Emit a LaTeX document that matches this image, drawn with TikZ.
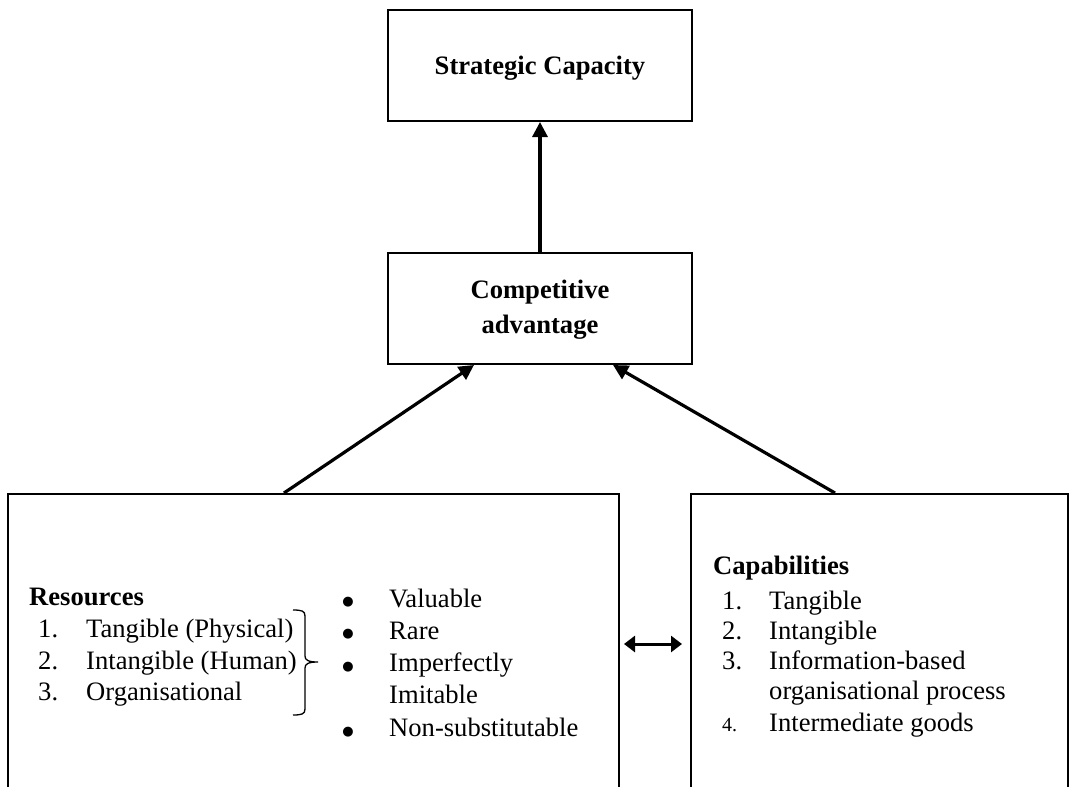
\documentclass[tikz,border=0pt]{standalone}
\usepackage{fontspec}
\setmainfont{Liberation Serif}
\newfontfamily\bulfont{DejaVu Sans}
\usetikzlibrary{arrows.meta,calc}
\begin{document}
\begin{tikzpicture}[x=1pt,y=-1pt,
  box/.style={draw,line width=2pt,inner sep=0pt},
  conn/.style={line width=3.2pt,-{Triangle[length=15pt,width=15pt]}},
  dbl/.style={line width=3pt,{Triangle[length=11pt,width=16pt]}-{Triangle[length=11pt,width=16pt]}},
  txt/.style={anchor=base west,inner sep=0pt,font=\fontsize{26.6}{31.5}\selectfont},
  btxt/.style={inner sep=0pt,font=\bfseries\fontsize{26.6}{31.5}\selectfont},
  smalltxt/.style={anchor=base west,inner sep=0pt,font=\fontsize{20}{24}\selectfont},
  bul/.style={anchor=base,inner sep=0pt,font=\bulfont\fontsize{13}{13}\selectfont}]
\useasboundingbox (0,0) rectangle (1072,787);
\clip (0,0) rectangle (1072,787);
\fill[white] (0,0) rectangle (1072,787);
% boxes
\node[box,minimum width=304pt,minimum height=111pt] (top) at (540,65.5) {};
\node[box,minimum width=304pt,minimum height=111pt] (comp) at (540,308.5) {};
\node[box,minimum width=611pt,minimum height=320pt] (res) at (313.5,654) {};
\node[box,minimum width=377pt,minimum height=320pt] (cap) at (879.5,654) {};
% titles
\node[btxt,anchor=base] (toptxt) at (540,74) {Strategic Capacity};
\node[btxt,anchor=base] (comptxta) at (540,298) {Competitive};
\node[btxt,anchor=base] (comptxtb) at (540,333) {advantage};
% connectors
\draw[conn] (comp.north) -- (top.south);
\draw[conn] ($(res.north west)+(277,0)$) -- ($(comp.south west)+(87,0)$);
\draw[conn] ($(cap.north west)+(145,0)$) -- ($(comp.south east)+(-80,0)$);
\draw[dbl] ($(res.east)+(4,-10)$) -- ($(cap.west)+(-8,-10)$);
% resources
\node[btxt,anchor=base west] (restitle) at (29,605) {Resources};
\node[txt] (r1n) at (38,637) {1.};
\node[txt] (r1) at (86,637) {Tangible (Physical)};
\node[txt] (r2n) at (38,669) {2.};
\node[txt] (r2) at (86,669) {Intangible (Human)};
\node[txt] (r3n) at (38,700) {3.};
\node[txt] (r3) at (86,700) {Organisational};
% brace
\draw[line width=1.3pt] (293,610) .. controls (302,610) and (305,611) .. (305,616) -- (305,656)
  .. controls (305,660) and (308,662) .. (318,662)
  .. controls (308,662) and (305,664) .. (305,668) -- (305,709)
  .. controls (305,714) and (302,715) .. (293,715);
% bullets
\node[bul] (b1) at (348,605) {●};
\node[bul] (b2) at (348,637) {●};
\node[bul] (b3) at (348,670) {●};
\node[bul] (b4) at (348,735) {●};
\node[txt] (v1) at (389,607) {Valuable};
\node[txt] (v2) at (389,639) {Rare};
\node[txt] (v3) at (389,671) {Imperfectly};
\node[txt] (v3b) at (389,703) {Imitable};
\node[txt] (v4) at (389,736) {Non-substitutable};
% capabilities
\node[btxt,anchor=base west] (captitle) at (713,574) {Capabilities};
\node[txt] (c1n) at (722,609) {1.};
\node[txt] (c1) at (769,609) {Tangible};
\node[txt] (c2n) at (722,639) {2.};
\node[txt] (c2) at (769,639) {Intangible};
\node[txt] (c3n) at (722,669) {3.};
\node[txt] (c3) at (769,669) {Information-based};
\node[txt] (c3b) at (769,699) {organisational process};
\node[smalltxt] (c4n) at (722,731) {4.};
\node[txt] (c4) at (769,731) {Intermediate goods};
\end{tikzpicture}
\end{document}
